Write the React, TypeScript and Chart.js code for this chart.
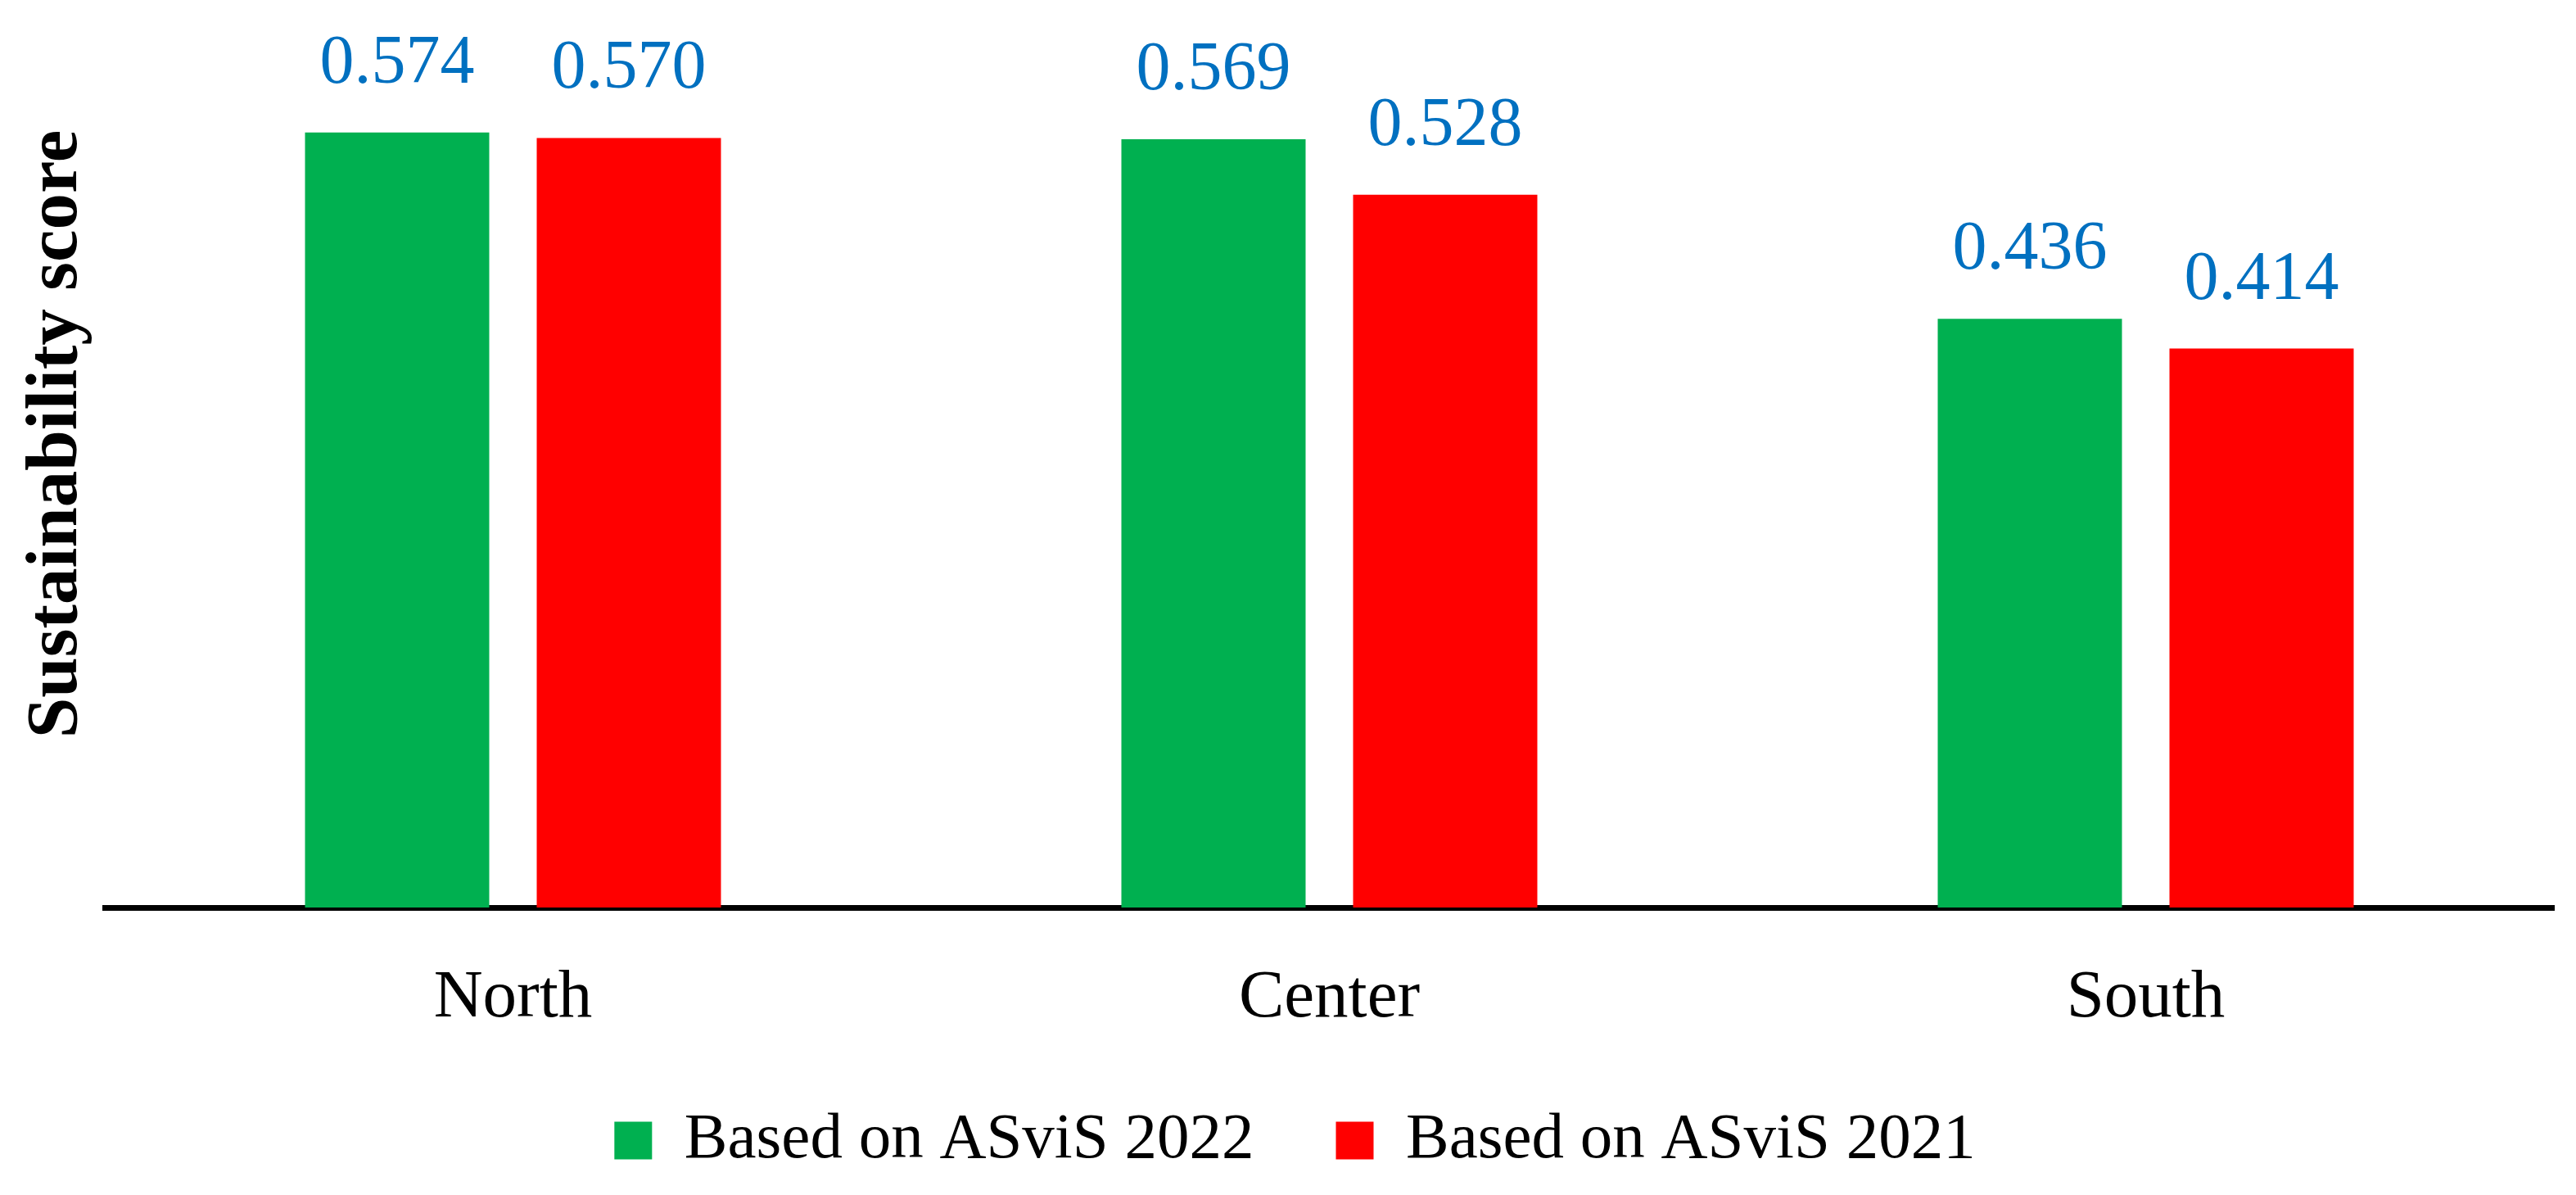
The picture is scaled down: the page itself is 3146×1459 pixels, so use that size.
import React, { useEffect, useRef } from "react";
import { Chart, registerables } from "chart.js";

Chart.register(...registerables);

const categories = ["North", "Center", "South"];
const seriesNames = ["Based on ASviS 2022", "Based on ASviS 2021"];
const values2022 = [0.574, 0.569, 0.436];
const values2021 = [0.57, 0.528, 0.414];
const seriesColors = ["#00B050", "#FF0000"];
const yTitle = "Sustainability score";
const yMin = 0;
const yMax = 0.6;

const W = 3130;
const H = 1443;

const valueLabels = {
  id: "valueLabels",
  afterDatasetsDraw(chart: any) {
    const ctx = chart.ctx;
    ctx.save();
    ctx.font = "84px 'Liberation Serif', serif";
    ctx.fillStyle = "#0070C0";
    ctx.textAlign = "center";
    ctx.textBaseline = "alphabetic";
    chart.data.datasets.forEach((ds: any, i: number) => {
      const meta = chart.getDatasetMeta(i);
      meta.data.forEach((bar: any, j: number) => {
        const v = ds.data[j];
        ctx.fillText(Number(v).toFixed(3), bar.x, bar.y - 61);
      });
    });
    ctx.restore();
  },
};

const yTitlePlugin = {
  id: "yTitlePlugin",
  afterDraw(chart: any) {
    const ctx = chart.ctx;
    const area = chart.chartArea;
    ctx.save();
    ctx.translate(85, area.bottom - 578);
    ctx.rotate(-Math.PI / 2);
    ctx.font = "bold 89px 'Liberation Serif', serif";
    ctx.fillStyle = "#000000";
    ctx.textAlign = "center";
    ctx.textBaseline = "alphabetic";
    ctx.fillText(yTitle, 0, 0);
    ctx.restore();
  },
};

export default function App() {
  const ref = useRef<HTMLCanvasElement | null>(null);

  useEffect(() => {
    if (!ref.current) return;
    const chart = new Chart(ref.current, {
      type: "bar",
      data: {
        labels: categories,
        datasets: [
          {
            label: seriesNames[0],
            data: values2022,
            backgroundColor: seriesColors[0],
            borderWidth: 0,
            categoryPercentage: 0.5677,
            barPercentage: 0.795,
          },
          {
            label: seriesNames[1],
            data: values2021,
            backgroundColor: seriesColors[1],
            borderWidth: 0,
            categoryPercentage: 0.5677,
            barPercentage: 0.795,
          },
        ],
      },
      options: {
        animation: false,
        responsive: false,
        devicePixelRatio: 1,
        layout: { padding: { left: 36, right: 19, top: 111, bottom: 9 } },
        plugins: {
          legend: {
            position: "bottom",
            labels: {
              boxWidth: 46,
              boxHeight: 46,
              padding: 100,
              color: "#000000",
              font: { family: "'Liberation Serif', serif", size: 79 },
            },
          },
          tooltip: { enabled: false },
        },
        scales: {
          x: {
            grid: { display: false, drawTicks: false },
            border: { display: true, color: "#000000", width: 7 },
            ticks: {
              padding: 61,
              color: "#000000",
              font: { family: "'Liberation Serif', serif", size: 83 },
            },
            afterFit: (s: any) => {
              s.height = 145;
            },
          },
          y: {
            min: yMin,
            max: yMax,
            grid: { display: false, drawTicks: false },
            border: { display: false },
            ticks: { display: false },
            afterFit: (s: any) => {
              s.width = 84;
            },
          },
        },
      },
      plugins: [valueLabels, yTitlePlugin],
    });
    return () => chart.destroy();
  }, []);

  return (
    <div style={{ width: W, height: H, overflow: "hidden" }}>
      <canvas ref={ref} width={W} height={H} style={{ display: "block", width: W, height: H }} />
    </div>
  );
}
